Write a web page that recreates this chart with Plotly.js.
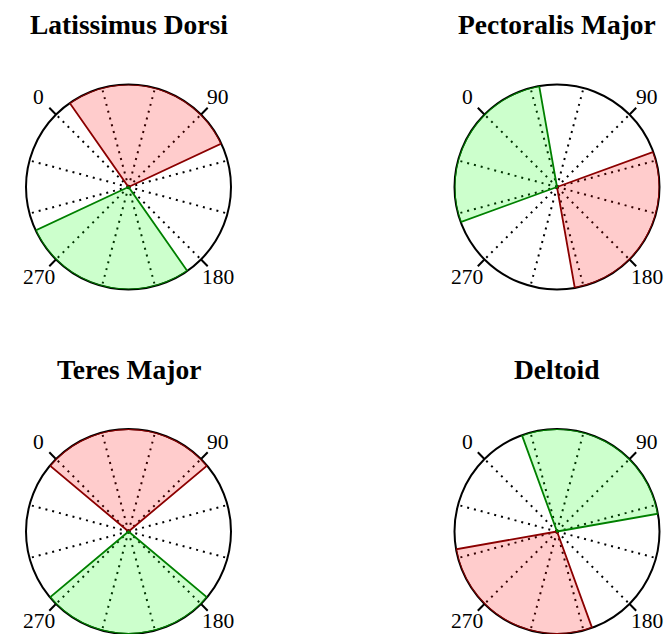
<!DOCTYPE html>
<html><head><meta charset="utf-8">
<script src="https://cdn.plot.ly/plotly-3.0.1.min.js"></script>
<style>body{margin:0;background:#fff}</style>
</head><body><div id="chart" style="width:665px;height:634px"></div>
<script>
const muscles = ['Latissimus Dorsi', 'Pectoralis Major', 'Teres Major', 'Deltoid'];
const redStart = [10, 115, -5, 205];
const redEnd = [110, 215, 95, 305];
const greenStart = [190, -65, 175, 25];
const greenEnd = [290, 35, 275, 125];
const tickAngles = [0, 90, 180, 270];
const tickLabels = ['0', '90', '180', '270'];
const gridAngles = [0, 30, 60, 90, 120, 150, 180, 210, 240, 270, 300, 330];

const W = 665, H = 634;
const centers = [[128.5, 187], [557, 187], [128.5, 531.5], [557, 531.5]];
const R = 102.5;
const ROT = 135;
const LABEL_DIST = 127;

const traces = [];
const layout = {
  width: W, height: H, margin: {l: 0, r: 0, t: 0, b: 0},
  paper_bgcolor: '#fff', showlegend: false, annotations: []
};

muscles.forEach((m, i) => {
  const [cx, cy] = centers[i];
  const dom = {
    x: [(cx - R) / W, (cx + R) / W],
    y: [Math.max(0, 1 - (cy + R) / H), Math.min(1, 1 - (cy - R) / H)]
  };
  const lower = 'polar' + (i === 0 ? '' : (i + 1));
  const upper = 'polar' + (i + 5);
  traces.push({
    type: 'barpolar', subplot: lower,
    r: [1], theta: [(redStart[i] + redEnd[i]) / 2], width: [redEnd[i] - redStart[i]],
    marker: {color: 'rgba(255,0,0,0.2)', line: {color: '#8b0000', width: 1.8}},
    hoverinfo: 'skip'
  });
  traces.push({
    type: 'barpolar', subplot: upper,
    r: [1], theta: [(greenStart[i] + greenEnd[i]) / 2], width: [greenEnd[i] - greenStart[i]],
    marker: {color: 'rgba(0,255,0,0.2)', line: {color: '#008000', width: 1.8}},
    hoverinfo: 'skip'
  });
  layout[lower] = {
    domain: dom, bgcolor: '#fff', bargap: 0,
    radialaxis: {visible: false, range: [0, 1], showgrid: false},
    angularaxis: {
      rotation: ROT, direction: 'clockwise', tickmode: 'array', tickvals: gridAngles,
      showticklabels: false, ticks: '', showgrid: true, gridcolor: 'black', gridwidth: 2,
      griddash: '2px,5px', showline: true, linecolor: 'black', linewidth: 2, layer: 'below traces'
    }
  };
  layout[upper] = {
    domain: dom, bgcolor: 'rgba(0,0,0,0)', bargap: 0,
    radialaxis: {visible: false, range: [0, 1], showgrid: false},
    angularaxis: {
      rotation: ROT, direction: 'clockwise', tickmode: 'array', tickvals: tickAngles,
      ticktext: tickLabels, showticklabels: false, ticks: 'outside', ticklen: 9, tickwidth: 2,
      tickcolor: 'black', showgrid: false, showline: false
    }
  };
  tickAngles.forEach((a, k) => {
    const std = (ROT - a) * Math.PI / 180;
    const px = cx + LABEL_DIST * Math.cos(std);
    const py = cy - LABEL_DIST * Math.sin(std);
    layout.annotations.push({
      text: tickLabels[k], xref: 'paper', yref: 'paper', x: px / W, y: 1 - py / H,
      xanchor: 'center', yanchor: 'middle', showarrow: false,
      font: {family: 'Liberation Serif', size: 21.5, color: 'black'}
    });
  });
  layout.annotations.push({
    text: m, xref: 'paper', yref: 'paper', x: cx / W, y: 1 - (cy - 162) / H,
    xanchor: 'center', yanchor: 'middle', showarrow: false,
    font: {family: 'Liberation Serif', size: 27.5, weight: 'bold', color: 'black'}
  });
});

Plotly.newPlot('chart', traces, layout, {staticPlot: true, displayModeBar: false});
</script>
</body></html>
